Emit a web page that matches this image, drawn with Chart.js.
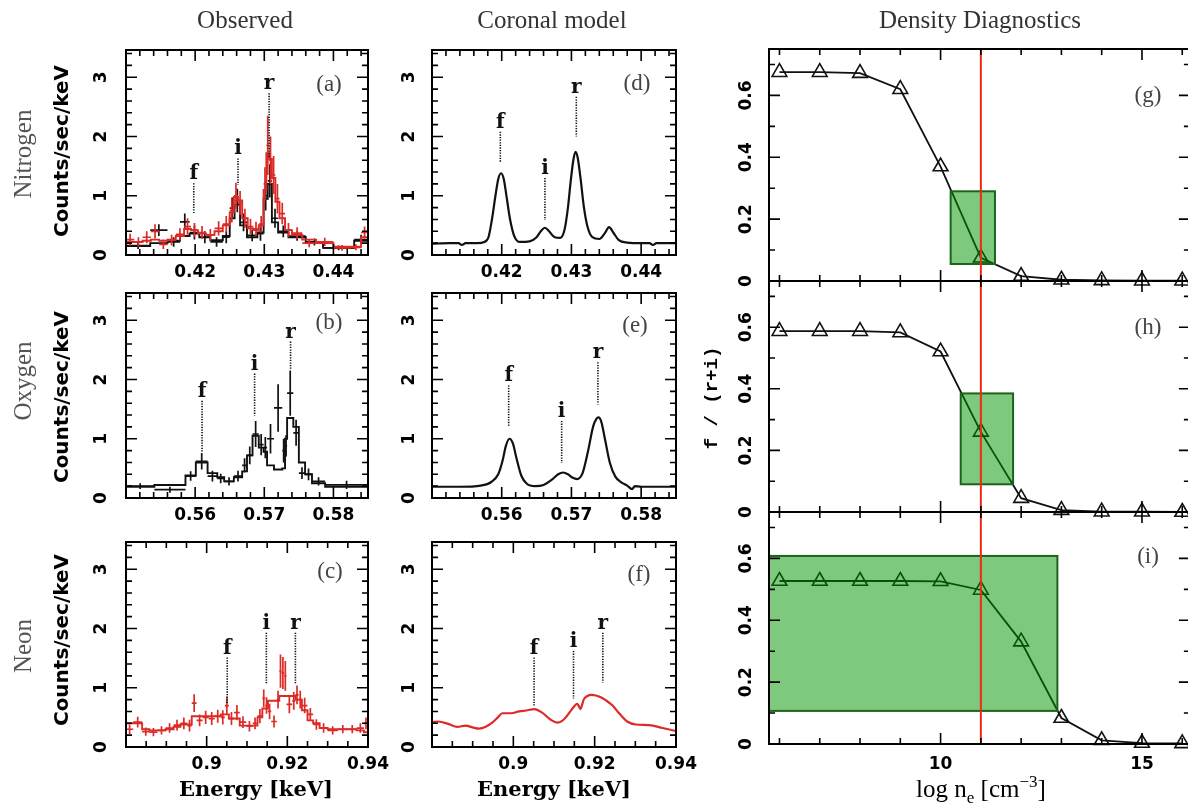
<!DOCTYPE html>
<html>
<head>
<meta charset="utf-8">
<script src="https://cdn.jsdelivr.net/npm/chart.js@4.4.0/dist/chart.umd.min.js"></script>
<style>
  html, body { margin: 0; padding: 0; background: #fff; overflow: hidden; }
  #wrap { position: relative; width: 1188px; height: 808px; overflow: hidden; background: #fff; }
  #wrap canvas { position: absolute; left: 0; top: 0; }
</style>
</head>
<body>
<div id="wrap"></div>
<script>
// ---------------- He-like triplet spectra ----------------
// Nitrogen (N VI), instrument 1 (black): bin edges, counts, errors, fitted model
const nBlackEdges  = [0.4100,0.4135,0.4160,0.4178,0.4192,0.4206,0.4222,0.4240,0.4250,0.4257,0.4265,0.4275,0.4290,0.4299,0.4305,0.4311,0.4320,0.4335,0.4360,0.4385,0.4430,0.4450];
const nBlackCounts = [0.16,0.42,0.22,0.56,0.38,0.30,0.22,0.30,0.79,0.92,0.55,0.33,0.36,1.00,1.25,0.62,0.40,0.32,0.22,0.12,0.26];
const nBlackErr    = [0.06,0.10,0.08,0.14,0.12,0.10,0.08,0.10,0.18,0.20,0.15,0.10,0.12,0.25,0.28,0.16,0.10,0.08,0.06,0.04,0.08];
const nBlackModel  = [0.15,0.20,0.24,0.32,0.36,0.30,0.25,0.32,0.62,0.85,0.50,0.30,0.38,0.95,1.20,0.55,0.38,0.30,0.20,0.12,0.24];

// Nitrogen, instrument 2 (red)
const nRedEdges  = [0.4100,0.4112,0.4124,0.4136,0.4148,0.4160,0.4172,0.4184,0.4194,0.4204,0.4216,0.4228,0.4240,0.4250,0.4256,0.4262,0.4268,0.4276,0.4284,0.4292,0.4299,0.4303,0.4307,0.4311,0.4316,0.4322,0.4330,0.4340,0.4355,0.4375,0.4400,0.4425,0.4440,0.4450];
const nRedCounts = [0.26,0.22,0.30,0.40,0.18,0.25,0.35,0.48,0.42,0.38,0.34,0.45,0.52,0.75,1.00,0.88,0.62,0.48,0.44,0.52,1.20,1.85,1.60,1.35,0.95,0.70,0.42,0.37,0.20,0.22,0.12,0.13,0.38];
const nRedErr    = [0.10,0.08,0.10,0.12,0.08,0.09,0.10,0.14,0.12,0.11,0.10,0.12,0.14,0.20,0.22,0.20,0.16,0.13,0.12,0.14,0.28,0.50,0.40,0.32,0.25,0.18,0.12,0.10,0.07,0.07,0.05,0.05,0.10];
const nRedModel  = [0.22,0.22,0.24,0.26,0.24,0.26,0.32,0.44,0.42,0.36,0.34,0.40,0.50,0.72,0.98,0.92,0.62,0.45,0.42,0.50,1.10,1.72,1.62,1.30,0.90,0.62,0.42,0.34,0.26,0.20,0.14,0.14,0.30];

// Oxygen (O VII)
const oEdges  = [0.5500,0.5541,0.5586,0.5601,0.5618,0.5632,0.5642,0.5656,0.5668,0.5675,0.5683,0.5692,0.5699,0.5704,0.5714,0.5726,0.5730,0.5733,0.5742,0.5750,0.5759,0.5769,0.5788,0.5850];
const oCounts = [0.20,0.14,0.37,0.62,0.37,0.33,0.28,0.37,0.55,0.72,1.08,0.90,0.85,1.00,1.52,0.80,0.88,1.77,1.10,0.42,0.40,0.28,0.22];
const oErr    = [0.05,0.05,0.08,0.14,0.09,0.08,0.07,0.09,0.12,0.15,0.22,0.18,0.18,0.25,0.40,0.20,0.18,0.38,0.22,0.10,0.10,0.07,0.07];
const oModel  = [0.19,0.22,0.38,0.60,0.42,0.35,0.28,0.35,0.45,0.72,1.05,0.85,0.78,0.55,0.48,0.50,1.00,1.35,1.20,0.60,0.40,0.25,0.19];

// Neon (Ne IX)
const neEdges  = [0.8800,0.8818,0.8840,0.8858,0.8878,0.8898,0.8918,0.8935,0.8952,0.8963,0.8975,0.8990,0.9005,0.9020,0.9035,0.9045,0.9055,0.9068,0.9082,0.9098,0.9114,0.9126,0.9138,0.9145,0.9152,0.9160,0.9174,0.9180,0.9186,0.9192,0.9198,0.9212,0.9220,0.9228,0.9236,0.9250,0.9264,0.9280,0.9300,0.9325,0.9350,0.9372,0.9390,0.9400];
const neCounts = [0.30,0.42,0.26,0.25,0.28,0.32,0.37,0.40,0.36,0.74,0.45,0.50,0.48,0.52,0.50,0.70,0.48,0.58,0.42,0.35,0.40,0.52,0.82,0.70,0.60,0.43,0.80,1.28,1.25,1.20,0.72,0.78,0.88,0.80,0.70,0.55,0.38,0.32,0.28,0.30,0.30,0.32,0.40];
const neErr    = [0.08,0.09,0.07,0.07,0.07,0.08,0.09,0.10,0.10,0.15,0.10,0.11,0.11,0.11,0.12,0.15,0.11,0.13,0.10,0.09,0.10,0.12,0.15,0.14,0.13,0.10,0.15,0.28,0.27,0.25,0.15,0.15,0.16,0.15,0.13,0.11,0.09,0.08,0.07,0.07,0.07,0.08,0.10];
const neModel  = [0.40,0.40,0.30,0.28,0.28,0.30,0.34,0.38,0.38,0.52,0.52,0.52,0.52,0.52,0.55,0.55,0.48,0.48,0.36,0.36,0.36,0.50,0.65,0.65,0.78,0.78,0.78,0.86,0.86,0.86,0.86,0.86,0.80,0.80,0.62,0.45,0.40,0.32,0.30,0.30,0.30,0.28,0.25];

// Coronal (collisional equilibrium) model spectra
const nCoronalE = [0.4100,0.4125,0.4138,0.4143,0.4148,0.4165,0.4175,0.4181,0.4186,0.4191,0.4195,0.4199,0.4203,0.4207,0.4212,0.4218,0.4226,0.4240,0.4250,0.4256,0.4262,0.4268,0.4276,0.4284,0.4290,0.4295,0.4299,0.4303,0.4306,0.4309,0.4313,0.4318,0.4323,0.4330,0.4340,0.4348,0.4354,0.4360,0.4368,0.4380,0.4400,0.4412,0.4417,0.4422,0.4435,0.4450];
const nCoronalF = [0.19,0.20,0.20,0.17,0.20,0.20,0.22,0.30,0.60,1.00,1.28,1.38,1.28,0.98,0.60,0.32,0.22,0.23,0.30,0.40,0.46,0.40,0.30,0.29,0.42,0.80,1.25,1.62,1.74,1.64,1.30,0.80,0.48,0.30,0.27,0.37,0.47,0.38,0.25,0.21,0.20,0.20,0.17,0.20,0.20,0.20];
const oCoronalE = [0.5500,0.5540,0.5570,0.5585,0.5595,0.5601,0.5606,0.5611,0.5616,0.5621,0.5628,0.5636,0.5648,0.5660,0.5672,0.5681,0.5688,0.5695,0.5702,0.5708,0.5716,0.5724,0.5731,0.5736,0.5739,0.5743,0.5748,0.5755,0.5763,0.5772,0.5780,0.5787,0.5791,0.5800,0.5820,0.5850];
const oCoronalF = [0.19,0.19,0.21,0.27,0.40,0.62,0.88,1.00,0.92,0.68,0.38,0.24,0.20,0.22,0.31,0.40,0.43,0.40,0.34,0.32,0.42,0.80,1.20,1.34,1.36,1.28,1.00,0.60,0.36,0.26,0.21,0.15,0.20,0.19,0.19,0.19];
const neCoronalE = [0.8800,0.8816,0.8840,0.8862,0.8883,0.8900,0.8916,0.8932,0.8948,0.8962,0.8973,0.8994,0.9014,0.9035,0.9051,0.9071,0.9092,0.9108,0.9120,0.9129,0.9140,0.9149,0.9157,0.9161,0.9165,0.9169,0.9173,0.9182,0.9192,0.9203,0.9215,0.9227,0.9244,0.9260,0.9280,0.9301,0.9334,0.9367,0.9400];
const neCoronalF = [0.42,0.43,0.39,0.34,0.36,0.33,0.31,0.34,0.41,0.50,0.57,0.57,0.60,0.62,0.64,0.58,0.46,0.41,0.44,0.50,0.60,0.68,0.73,0.69,0.64,0.71,0.80,0.86,0.88,0.87,0.84,0.79,0.70,0.57,0.43,0.38,0.37,0.32,0.27];

// Triplet line energies (keV): forbidden, intercombination, resonance
const nLines  = { f: 0.4198, i: 0.4262, r: 0.4307 };
const oLines  = { f: 0.5610, i: 0.5686, r: 0.5738 };
const neLines = { f: 0.9051, i: 0.9148, r: 0.9220 };

// ---------------- Density diagnostics: f/(r+i) vs log n_e ----------------
const logNe   = [6, 7, 8, 9, 10, 11, 12, 13, 14, 15, 16];
const ratioN  = [0.675, 0.675, 0.672, 0.620, 0.370, 0.075, 0.016, 0.004, 0.002, 0.001, 0.001];
const ratioO  = [0.587, 0.587, 0.587, 0.583, 0.521, 0.260, 0.045, 0.006, 0.001, 0.001, 0.000];
const ratioNe = [0.527, 0.527, 0.527, 0.527, 0.526, 0.498, 0.331, 0.084, 0.012, 0.003, 0.002];
// measured ratio ranges and the density ranges they allow
const measN  = { ne: [10.25, 11.35], ratio: [0.055, 0.290] };
const measO  = { ne: [10.50, 11.80], ratio: [0.090, 0.385] };
const measNe = { ne: [5.74, 12.90], ratio: [0.107, 0.608] };
const adoptedLogNe = 11.0;

// Tick labels
const nTicks  = [0.42, 0.43, 0.44];
const oTicks  = [0.56, 0.57, 0.58];
const neTicks = [0.90, 0.92, 0.94];
const neTickLabels = ['0.9', '0.92', '0.94'];
const countTicks = [0, 1, 2, 3];
const densTicks  = [10, 15];
const ratioTicks = [0, 0.2, 0.4, 0.6];

// ---------------- drawing ----------------
const W = 1200, H = 808;
const RED = '#dc2b27';
const TICK_FONT = 'bold 17px "DejaVu Sans"';
const MARK_FONT = 'bold 20px "DejaVu Serif"';
const SERIF = '"Liberation Serif"';
const wrap = document.getElementById('wrap');
const cfgOf = new Map();

function stepTicks(min, max, step) {
  const out = [];
  for (let k = Math.ceil(min / step - 1e-6); k * step <= max + step * 1e-6; k++) out.push(+(k * step).toFixed(6));
  return out;
}

function drawText(ctx, t) {
  ctx.save();
  ctx.fillStyle = t.color || '#000';
  ctx.textAlign = t.align || 'center';
  ctx.textBaseline = t.base || 'middle';
  ctx.translate(t.x, t.y);
  if (t.rot) ctx.rotate(t.rot);
  if (t.rich) {
    let total = 0;
    for (const [s, f] of t.rich) { ctx.font = f; total += ctx.measureText(s).width; }
    let x = -total / 2;
    ctx.textAlign = 'left';
    for (const [s, f, dy] of t.rich) { ctx.font = f; ctx.fillText(s, x, dy); x += ctx.measureText(s).width; }
  } else {
    ctx.font = t.font;
    ctx.fillText(t.t, 0, 0);
  }
  ctx.restore();
}

const panelPlugin = {
  id: 'panel',
  afterDatasetDraw(chart, args) {
    const ds = chart.data.datasets[args.index];
    if (!ds.crosses) return;
    const { x: xs, y: ys } = chart.scales, ctx = chart.ctx, ca = chart.chartArea;
    const c = ds.crosses;
    ctx.save();
    ctx.beginPath(); ctx.rect(ca.left, ca.top, ca.right - ca.left, ca.bottom - ca.top); ctx.clip();
    ctx.strokeStyle = ds.borderColor; ctx.lineWidth = 1.7;
    ctx.beginPath();
    for (let k = 0; k < c.vals.length; k++) {
      const x0 = xs.getPixelForValue(c.edges[k]), x1 = xs.getPixelForValue(c.edges[k + 1]);
      const xm = (x0 + x1) / 2, yv = ys.getPixelForValue(c.vals[k]);
      ctx.moveTo(x0, yv); ctx.lineTo(x1, yv);
      ctx.moveTo(xm, ys.getPixelForValue(c.vals[k] - c.errs[k]));
      ctx.lineTo(xm, ys.getPixelForValue(c.vals[k] + c.errs[k]));
    }
    ctx.stroke();
    ctx.restore();
  },
  afterDatasetsDraw(chart) {
    const cfg = cfgOf.get(chart.canvas); if (!cfg) return;
    const { x: xs, y: ys } = chart.scales, ctx = chart.ctx, ca = chart.chartArea;
    ctx.save();
    if (cfg.meas) {
      const m = cfg.meas;
      const l = Math.max(ca.left, xs.getPixelForValue(m.ne[0])), r = xs.getPixelForValue(m.ne[1]);
      const t = ys.getPixelForValue(m.ratio[1]), b = ys.getPixelForValue(m.ratio[0]);
      ctx.fillStyle = 'rgba(0,148,0,0.5)';
      ctx.fillRect(l, t, r - l, b - t);
      ctx.strokeStyle = '#1b641b'; ctx.lineWidth = 2;
      ctx.strokeRect(l, t, r - l, b - t);
    }
    if (cfg.vline !== undefined) {
      const px = xs.getPixelForValue(cfg.vline);
      ctx.strokeStyle = '#ee2a12'; ctx.lineWidth = 2;
      ctx.beginPath(); ctx.moveTo(px, ca.top); ctx.lineTo(px, ca.bottom); ctx.stroke();
    }
    for (const [lab, e, top, bot] of (cfg.markers || [])) {
      const px = xs.getPixelForValue(e), pt = ys.getPixelForValue(top), pb = ys.getPixelForValue(bot);
      ctx.strokeStyle = '#111'; ctx.lineWidth = 1.6; ctx.setLineDash([1.3, 1.3]);
      ctx.beginPath(); ctx.moveTo(px, pt); ctx.lineTo(px, pb); ctx.stroke();
      ctx.setLineDash([]);
      ctx.fillStyle = '#111'; ctx.font = MARK_FONT; ctx.textAlign = 'center'; ctx.textBaseline = 'alphabetic';
      ctx.fillText(lab, px, pt - 4);
    }
    ctx.restore();
  },
  afterDraw(chart) {
    const cfg = cfgOf.get(chart.canvas); if (!cfg) return;
    const { x: xs, y: ys } = chart.scales, ctx = chart.ctx, ca = chart.chartArea;
    const tk = cfg.ticks;
    ctx.save();
    ctx.strokeStyle = '#000'; ctx.lineWidth = 1.6;
    ctx.beginPath();
    for (const v of stepTicks(xs.min, xs.max, tk.xMinor)) {
      const major = tk.xMajor.some(m => Math.abs(m - v) < tk.xMinor * 1e-3);
      const len = major ? tk.majLen : tk.minLen, px = xs.getPixelForValue(v);
      ctx.moveTo(px, ca.bottom); ctx.lineTo(px, ca.bottom - len);
      ctx.moveTo(px, ca.top); ctx.lineTo(px, ca.top + len);
    }
    for (const v of stepTicks(ys.min, ys.max, tk.yMinor)) {
      const major = tk.yMajor.some(m => Math.abs(m - v) < tk.yMinor * 1e-3);
      const len = major ? tk.majLen : tk.minLen, py = ys.getPixelForValue(v);
      ctx.moveTo(ca.left, py); ctx.lineTo(ca.left + len, py);
      ctx.moveTo(ca.right, py); ctx.lineTo(ca.right - len, py);
    }
    ctx.stroke();
    ctx.lineWidth = 2;
    ctx.strokeRect(ca.left, ca.top, ca.right - ca.left, ca.bottom - ca.top);
    ctx.restore();

    if (tk.xLabels) tk.xMajor.forEach((v, k) => drawText(ctx, { t: tk.xLabels[k], x: xs.getPixelForValue(v), y: ca.bottom + tk.xDy, font: TICK_FONT }));
    if (tk.yLabels) tk.yMajor.forEach((v, k) => drawText(ctx, { t: tk.yLabels[k], x: ca.left - tk.yDx, y: ys.getPixelForValue(v), font: TICK_FONT, rot: -Math.PI / 2 }));
    for (const t of (cfg.texts || [])) drawText(ctx, t);
  }
};

function makePanel(box, xr, yr, datasets, cfg) {
  const cv = document.createElement('canvas');
  cv.width = W; cv.height = H;
  cv.style.width = W + 'px'; cv.style.height = H + 'px';
  wrap.appendChild(cv);
  cfgOf.set(cv, cfg);
  return new Chart(cv, {
    type: 'scatter',
    data: { datasets },
    options: {
      responsive: false, animation: false, devicePixelRatio: 1, events: [],
      layout: { padding: { left: box[0], top: box[1], right: W - box[2], bottom: H - box[3] } },
      scales: {
        x: { type: 'linear', min: xr[0], max: xr[1], display: false },
        y: { type: 'linear', min: yr[0], max: yr[1], display: false }
      },
      plugins: { legend: { display: false }, tooltip: { enabled: false } }
    },
    plugins: [panelPlugin]
  });
}

function histSet(edges, model, counts, errs, color, order) {
  const pts = model.map((v, k) => ({ x: edges[k], y: v }));
  pts.push({ x: edges[edges.length - 1], y: model[model.length - 1] });
  return { data: pts, showLine: true, stepped: true, borderColor: color, borderWidth: 1.9,
           pointRadius: 0, order, crosses: { edges, vals: counts, errs } };
}
function curveSet(E, F, color) {
  return { data: E.map((e, k) => ({ x: e, y: F[k] })), showLine: true, borderColor: color, borderWidth: 2.2,
           pointRadius: 0, cubicInterpolationMode: 'monotone' };
}
function ratioSet(ratio) {
  return { data: logNe.map((x, k) => ({ x, y: ratio[k] })), showLine: true, borderColor: '#111', borderWidth: 1.8,
           pointStyle: 'triangle', pointRadius: 8.5, pointBorderWidth: 1.6, pointBorderColor: '#111',
           pointBackgroundColor: 'rgba(0,0,0,0)', clip: false };
}
function markers(lines, spans) {
  return ['f', 'i', 'r'].map(k => [k, lines[k], spans[k][0], spans[k][1]]);
}

const YR = [0, 3.46];
const countAxis = { yMajor: countTicks, yLabels: countTicks.map(String), yMinor: 0.2, majLen: 11, minLen: 6, xDy: 18 };
const COL_TITLE = '25px ' + SERIF;
const ROW_FONT = '25px ' + SERIF;
const LETTER_FONT = '23px ' + SERIF;
const AXIS_FONT = 'bold 20px "DejaVu Sans"';
const ENERGY_FONT = 'bold 21px "DejaVu Serif"';

// ---- Column 1: observed ----
makePanel([126, 50, 368, 255], [0.41, 0.445], YR,
  [histSet(nBlackEdges, nBlackModel, nBlackCounts, nBlackErr, '#111', 1),
   histSet(nRedEdges, nRedModel, nRedCounts, nRedErr, RED, 0)],
  { ticks: { ...countAxis, xMajor: nTicks, xLabels: nTicks.map(v => v.toFixed(2)), xMinor: 0.002, yDx: 24.5 },
    markers: markers(nLines, { f: [1.21, 0.71], i: [1.63, 1.18], r: [2.73, 1.65] }),
    texts: [
      { t: 'Observed', x: 245, y: 28, font: COL_TITLE, color: '#333', base: 'alphabetic' },
      { t: 'Nitrogen', x: 31, y: 154, font: ROW_FONT, color: '#555', base: 'alphabetic', rot: -Math.PI / 2 },
      { t: 'Counts/sec/keV', x: 63, y: 151, font: AXIS_FONT, rot: -Math.PI / 2 },
      { t: '(a)', x: 329, y: 85, font: LETTER_FONT, color: '#444' }
    ] });

makePanel([126, 293, 368, 498], [0.55, 0.585], YR,
  [histSet(oEdges, oModel, oCounts, oErr, '#111', 0)],
  { ticks: { ...countAxis, xMajor: oTicks, xLabels: oTicks.map(v => v.toFixed(2)), xMinor: 0.002, yDx: 24.5 },
    markers: markers(oLines, { f: [1.64, 0.77], i: [2.10, 1.39], r: [2.64, 2.18] }),
    texts: [
      { t: 'Oxygen', x: 31, y: 381, font: ROW_FONT, color: '#555', base: 'alphabetic', rot: -Math.PI / 2 },
      { t: 'Counts/sec/keV', x: 63, y: 397, font: AXIS_FONT, rot: -Math.PI / 2 },
      { t: '(b)', x: 329, y: 323, font: LETTER_FONT, color: '#444' }
    ] });

makePanel([126, 542, 368, 747], [0.88, 0.94], YR,
  [histSet(neEdges, neModel, neCounts, neErr, RED, 0)],
  { ticks: { ...countAxis, xMajor: neTicks, xLabels: neTickLabels, xMinor: 0.005, yDx: 24.5 },
    markers: markers(neLines, { f: [1.51, 0.73], i: [1.93, 1.07], r: [1.93, 1.07] }),
    texts: [
      { t: 'Neon', x: 31, y: 646, font: ROW_FONT, color: '#555', base: 'alphabetic', rot: -Math.PI / 2 },
      { t: 'Counts/sec/keV', x: 63, y: 640, font: AXIS_FONT, rot: -Math.PI / 2 },
      { t: '(c)', x: 330, y: 572, font: LETTER_FONT, color: '#444' },
      { t: 'Energy [keV]', x: 256, y: 791, font: ENERGY_FONT }
    ] });

// ---- Column 2: coronal model ----
makePanel([432, 50, 676, 255], [0.41, 0.445], YR,
  [curveSet(nCoronalE, nCoronalF, '#111')],
  { ticks: { ...countAxis, xMajor: nTicks, xLabels: nTicks.map(v => v.toFixed(2)), xMinor: 0.002, yDx: 22 },
    markers: markers(nLines, { f: [2.08, 1.57], i: [1.30, 0.59], r: [2.67, 2.00] }),
    texts: [
      { t: 'Coronal model', x: 552, y: 28, font: COL_TITLE, color: '#333', base: 'alphabetic' },
      { t: '(d)', x: 637, y: 84, font: LETTER_FONT, color: '#444' }
    ] });

makePanel([432, 293, 676, 498], [0.55, 0.585], YR,
  [curveSet(oCoronalE, oCoronalF, '#111')],
  { ticks: { ...countAxis, xMajor: oTicks, xLabels: oTicks.map(v => v.toFixed(2)), xMinor: 0.002, yDx: 22 },
    markers: markers(oLines, { f: [1.90, 1.21], i: [1.30, 0.59], r: [2.29, 1.58] }),
    texts: [ { t: '(e)', x: 635, y: 326, font: LETTER_FONT, color: '#444' } ] });

makePanel([432, 542, 676, 747], [0.88, 0.94], YR,
  [curveSet(neCoronalE, neCoronalF, RED)],
  { ticks: { ...countAxis, xMajor: neTicks, xLabels: neTickLabels, xMinor: 0.005, yDx: 22 },
    markers: markers(neLines, { f: [1.51, 0.70], i: [1.62, 0.82], r: [1.93, 1.09] }),
    texts: [
      { t: '(f)', x: 639, y: 575, font: LETTER_FONT, color: '#444' },
      { t: 'Energy [keV]', x: 554, y: 791, font: ENERGY_FONT }
    ] });

// ---- Column 3: density diagnostics ----
const XR = [5.74, 16.19], RR = [0, 0.75];
const ratioAxis = { xMajor: densTicks, xMinor: 1, yMajor: ratioTicks, yLabels: ratioTicks.map(String), yMinor: 0.1,
                    majLen: 11, minLen: 6, yDx: 22, xDy: 21 };

makePanel([769, 49, 1190, 281], XR, RR, [ratioSet(ratioN)],
  { ticks: ratioAxis, meas: measN, vline: adoptedLogNe,
    texts: [
      { t: 'Density Diagnostics', x: 980, y: 28, font: COL_TITLE, color: '#333', base: 'alphabetic' },
      { t: '(g)', x: 1148, y: 96, font: LETTER_FONT, color: '#444' }
    ] });

makePanel([769, 281, 1190, 512], XR, RR, [ratioSet(ratioO)],
  { ticks: ratioAxis, meas: measO, vline: adoptedLogNe,
    texts: [
      { t: 'f / (r+i)', x: 712, y: 398, font: 'bold 19px "Liberation Mono"', rot: -Math.PI / 2 },
      { t: '(h)', x: 1148, y: 328, font: LETTER_FONT, color: '#444' }
    ] });

makePanel([769, 512, 1190, 744], XR, RR, [ratioSet(ratioNe)],
  { ticks: { ...ratioAxis, xLabels: densTicks.map(String) }, meas: measNe, vline: adoptedLogNe,
    texts: [
      { t: '(i)', x: 1148, y: 557, font: LETTER_FONT, color: '#444' },
      { x: 981, y: 797, base: 'alphabetic',
        rich: [['log n', '25px ' + SERIF, 0], ['e', '17px ' + SERIF, 6], [' [cm', '25px ' + SERIF, 0],
               ['\u22123', '17px ' + SERIF, -10], [']', '25px ' + SERIF, 0]] }
    ] });
</script>
</body>
</html>
